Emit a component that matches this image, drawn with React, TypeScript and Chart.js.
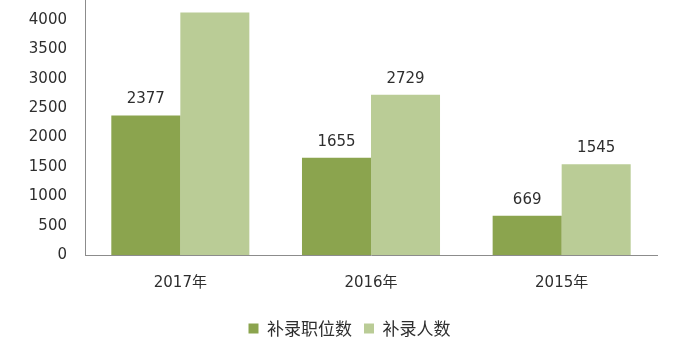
import React, { useEffect, useRef } from "react";
import { Chart, registerables } from "chart.js";

Chart.register(...registerables);

// 国考补录数据
const categories = ["2017年", "2016年", "2015年"];
const positionCounts = [2377, 1655, 669];
const peopleCounts = [4130, 2729, 1545];
const seriesNames = ["补录职位数", "补录人数"];
const yTickValues = [0, 500, 1000, 1500, 2000, 2500, 3000, 3500, 4000];

const DARK_GREEN = "rgb(139,164,78)";
const LIGHT_GREEN = "rgb(186,204,150)";
const TEXT = "#2e2e2e";
const AXIS = "#8c8c8c";
const NUM_FONT = '"DejaVu Sans", "Noto Sans CJK SC", sans-serif';
const CJK_FONT = '"Noto Sans CJK SC", "DejaVu Sans", sans-serif';

// Writes each bar's value just above it
const valueLabels = {
  id: "valueLabels",
  afterDatasetsDraw(chart: any) {
    const ctx = chart.ctx;
    ctx.save();
    ctx.font = `15px ${NUM_FONT}`;
    ctx.fillStyle = TEXT;
    ctx.textAlign = "center";
    ctx.textBaseline = "alphabetic";
    chart.data.datasets.forEach((ds: any, di: number) => {
      const meta = chart.getDatasetMeta(di);
      meta.data.forEach((bar: any, i: number) => {
        ctx.fillText(String(ds.data[i]), bar.x, bar.y - 12);
      });
    });
    ctx.restore();
  },
};

export default function App() {
  const canvasRef = useRef<HTMLCanvasElement | null>(null);

  useEffect(() => {
    if (!canvasRef.current) return;
    const chart = new Chart(canvasRef.current, {
      type: "bar",
      data: {
        labels: categories,
        datasets: [
          {
            label: seriesNames[0],
            data: positionCounts,
            backgroundColor: DARK_GREEN,
            barPercentage: 1,
            categoryPercentage: 0.724,
          },
          {
            label: seriesNames[1],
            data: peopleCounts,
            backgroundColor: LIGHT_GREEN,
            barPercentage: 1,
            categoryPercentage: 0.724,
          },
        ],
      },
      options: {
        responsive: false,
        animation: false,
        layout: { padding: { top: 0, left: 0, right: 0, bottom: 3 } },
        plugins: {
          tooltip: { enabled: false },
          legend: {
            position: "bottom",
            labels: {
              boxWidth: 10,
              boxHeight: 10,
              padding: 12,
              color: TEXT,
              font: { family: CJK_FONT, size: 17 },
            },
          },
        },
        scales: {
          x: {
            grid: { display: false, drawTicks: false },
            border: { display: true, color: AXIS, width: 1 },
            ticks: {
              color: TEXT,
              padding: 19,
              font: { family: NUM_FONT, size: 15 },
            },
            afterFit(scale: any) {
              scale.height = 53;
            },
          },
          y: {
            min: 0,
            max: 4342,
            grid: { display: false, drawTicks: false },
            border: { display: true, color: AXIS, width: 1 },
            ticks: {
              stepSize: 500,
              includeBounds: false,
              color: TEXT,
              padding: 18,
              font: { family: NUM_FONT, size: 15 },
              callback: (value: any) => String(value),
            },
            afterBuildTicks(scale: any) {
              scale.ticks = yTickValues.map((v) => ({ value: v }));
            },
            afterFit(scale: any) {
              scale.width = 85;
              scale.paddingTop = 0;
              scale.paddingBottom = 0;
            },
          },
          yRight: {
            position: "right",
            display: true,
            grid: { display: false, drawTicks: false },
            border: { display: false },
            ticks: { display: false },
            afterFit(scale: any) {
              scale.width = 42;
              scale.paddingTop = 0;
              scale.paddingBottom = 0;
            },
          },
        },
      },
      plugins: [valueLabels],
    });
    return () => chart.destroy();
  }, []);

  return (
    <div
      style={{
        position: "fixed",
        left: 0,
        top: 0,
        width: 699,
        height: 350,
        background: "#ffffff",
      }}
    >
      <canvas ref={canvasRef} width={699} height={350} />
    </div>
  );
}
